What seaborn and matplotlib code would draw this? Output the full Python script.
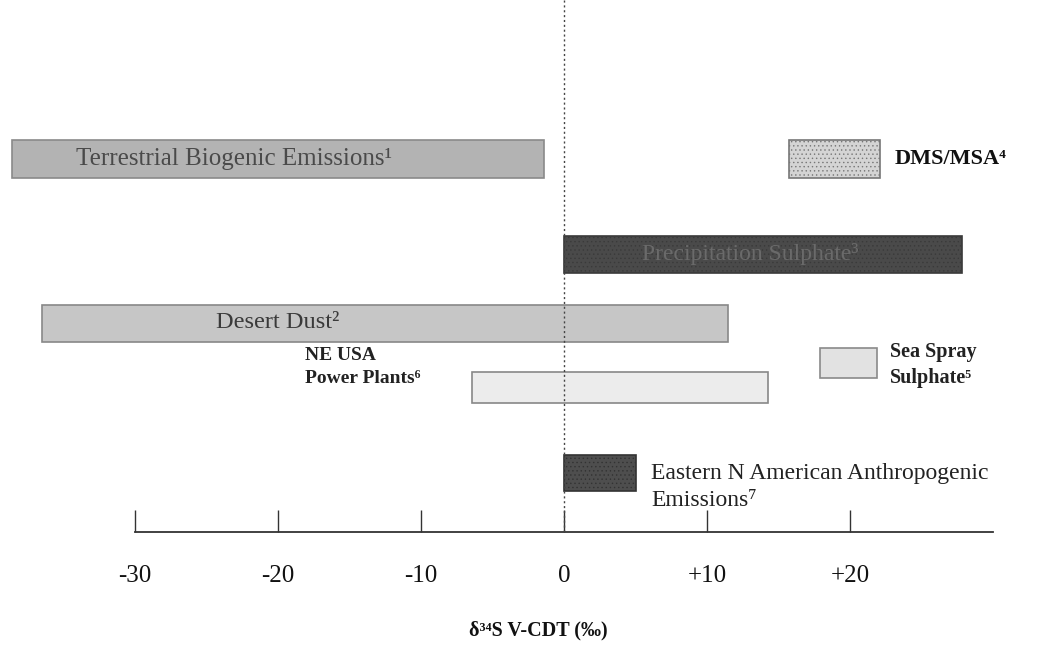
import matplotlib
matplotlib.use("Agg")
import matplotlib.pyplot as plt
import seaborn as sns

# ---- data (delta34S ranges, permil) ----
sources = ["Terrestrial Biogenic Emissions", "DMS/MSA", "Precipitation Sulphate",
           "Desert Dust", "Sea Spray Sulphate", "NE USA Power Plants",
           "Eastern N American Anthropogenic Emissions"]
range_low = [-38.6, 15.7, 0.0, -36.5, 17.9, -6.4, 0.0]
range_high = [-1.4, 22.1, 27.8, 11.5, 21.9, 14.3, 5.0]
tick_values = [-30, -20, -10, 0, 10, 20]
tick_labels = ["-30", "-20", "-10", "0", "+10", "+20"]

# ---- layout / style ----
row_y = [159, 159, 254, 323, 363, 387, 473]
row_h = [38, 38, 37, 37, 30, 31, 36]
fills = ["#b3b3b3", "#d4d4d4", "#4a4a4a", "#c6c6c6", "#e2e2e2", "#ececec", "#4e4e4e"]
edges = ["#8a8a8a", "#777777", "#3a3a3a", "#888888", "#8a8a8a", "#888888", "#333333"]
hatches = ["", "....", "....", "", "", "", "...."]

sns.set_theme(style="white")
serif = ["Liberation Serif", "DejaVu Serif"]
plt.rcParams["font.family"] = serif
plt.rcParams["hatch.linewidth"] = 0.5

fig = plt.figure(figsize=(10.45, 6.45), dpi=100)
ax = fig.add_axes([0, 0, 1, 1])
ax.set_facecolor("white")
fig.patch.set_facecolor("white")

upp = 60 / 858.0
ax.set_xlim(-30 - 135 * upp, 30 + (1045 - 993) * upp)
ax.set_ylim(645, 0)

for lo, hi, y, h, fc, ec, ht in zip(range_low, range_high, row_y, row_h, fills, edges, hatches):
    plt.rcParams["hatch.color"] = "#999999" if fc not in ("#4a4a4a", "#4e4e4e") else "#6a6a6a"
    ax.barh(y, hi - lo, left=lo, height=h, color=fc, edgecolor=ec, linewidth=1.2,
            hatch=ht, zorder=3)

# zero reference line
ax.plot([0, 0], [0, 532], ls=(0, (1.5, 2)), color="#444444", lw=1.0, zorder=4)

# axis
for s in ["top", "left", "right"]:
    ax.spines[s].set_visible(False)
ax.spines["bottom"].set_position(("data", 532))
ax.spines["bottom"].set_bounds(-30, 30)
ax.spines["bottom"].set_color("#333333")
ax.spines["bottom"].set_linewidth(1.3)
ax.set_xticks(tick_values, labels=tick_labels)
ax.tick_params(axis="x", bottom=True, direction="in", length=16, width=1.0, color="#333333",
               pad=24, labelsize=18, labelcolor="#111111")
ax.set_yticks([])
ax.set_xlabel("δ³⁴S V-CDT (‰)", fontsize=14.5, fontweight="bold", color="#111111")
ax.xaxis.set_label_coords(538 / 1045, 1 - 620 / 645)

# labels
ax.text(-23.1, 159, "Terrestrial Biogenic Emissions¹", fontsize=18, color="#4a4a4a",
        ha="center", va="center", zorder=5, family=serif)
ax.text(23.1, 159, "DMS/MSA⁴", fontsize=16, fontweight="bold", color="#111111",
        ha="left", va="center", zorder=5, family=serif)
ax.text(13.0, 254, "Precipitation Sulphate³", fontsize=17, color="#6a6a6a",
        ha="center", va="center", zorder=5, family=serif)
ax.text(-20.0, 323, "Desert Dust²", fontsize=17.5, color="#3a3a3a",
        ha="center", va="center", zorder=5, family=serif)
ax.text(22.8, 365, "Sea Spray\nSulphate⁵", fontsize=14.5, fontweight="bold", color="#222222",
        ha="left", va="center", linespacing=1.45, zorder=5, family=serif)
ax.text(-18.1, 367, "NE USA\nPower Plants⁶", fontsize=14, fontweight="bold", color="#222222",
        ha="left", va="center", linespacing=1.5, zorder=5, family=serif)
ax.text(6.1, 487, "Eastern N American Anthropogenic\nEmissions⁷", fontsize=17, color="#222222",
        ha="left", va="center", linespacing=1.4, zorder=5, family=serif)

fig.savefig("out.png", dpi=100, facecolor="white")
